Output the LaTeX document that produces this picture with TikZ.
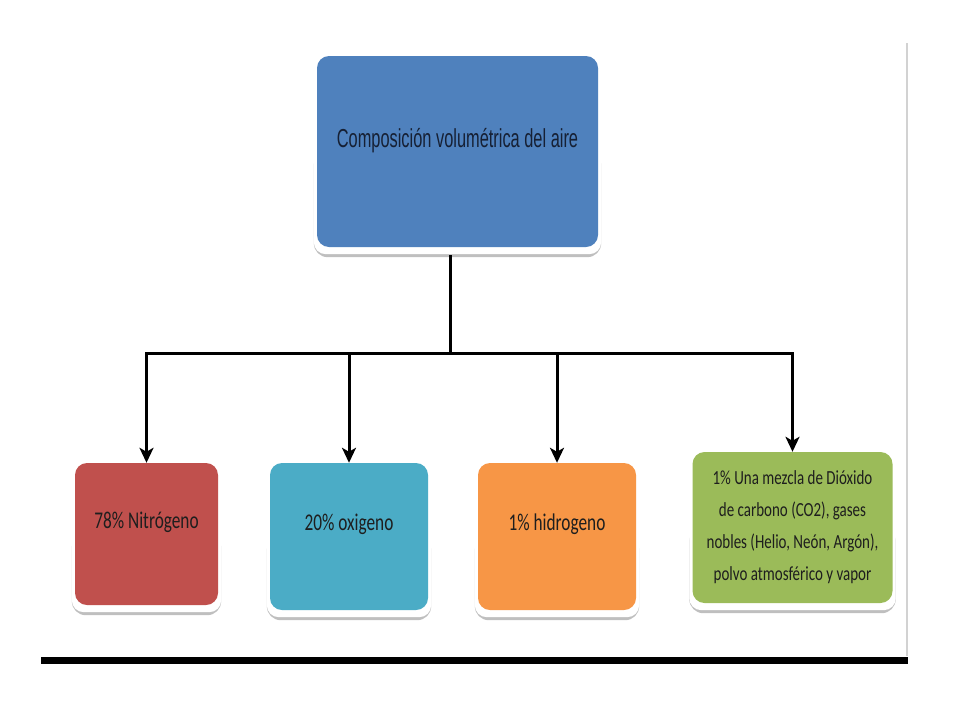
\documentclass[tikz,border=0pt]{standalone}
\usepackage{fontspec}
\setmainfont{Carlito}
\newfontfamily\arialfont{Liberation Sans}
\usetikzlibrary{arrows.meta,backgrounds}
\definecolor{cblue}{RGB}{79,129,189}
\definecolor{cred}{RGB}{192,80,77}
\definecolor{cteal}{RGB}{75,172,198}
\definecolor{corange}{RGB}{247,150,70}
\definecolor{cgreen}{RGB}{155,187,89}
\definecolor{navytext}{RGB}{22,32,52}
\definecolor{darktext}{RGB}{30,30,30}
\newcommand{\sqa}[1]{\scalebox{0.63}[1]{#1}}
\newcommand{\sqb}[1]{\scalebox{0.72}[1]{#1}}
\newcommand{\sqc}[1]{\scalebox{0.75}[1]{#1}}
\tikzset{
  box/.style={rectangle, rounded corners=12pt, inner sep=0pt, draw=none, text=darktext, align=center},
  conn/.style={line width=3pt, black},
  arr/.style={line width=3pt, black, -{Stealth[length=15pt,width=14pt,inset=4pt]}},
  rimshadow/.style={fill=gray!50, rounded corners=14pt},
  rimwhite/.style={fill=white, rounded corners=12pt}
}
\begin{document}
\begin{tikzpicture}[x=1pt,y=-1pt]
\useasboundingbox (0,0) rectangle (960,720);

% top node
\node[box, fill=cblue, text=navytext, minimum width=281pt, minimum height=191pt,
      font=\arialfont\fontsize{26}{30}\selectfont, text depth=28pt] (top) at (457.5,151.5)
      {\sqa{Composición volumétrica del aire}};

% bottom nodes
\node[box, fill=cred, minimum width=143pt, minimum height=142pt,
      font=\fontsize{24}{28}\selectfont, text depth=28pt] (n1) at (146.5,534)
      {\sqb{78\% Nitrógeno}};
\node[box, fill=cteal, minimum width=158pt, minimum height=147pt,
      font=\fontsize{24}{28}\selectfont, text depth=28pt] (n2) at (349,536.5)
      {\sqb{20\% oxigeno}};
\node[box, fill=corange, minimum width=158pt, minimum height=147pt,
      font=\fontsize{24}{28}\selectfont, text depth=28pt] (n3) at (557,536.5)
      {\sqb{1\% hidrogeno}};
\node[box, fill=cgreen, minimum width=200pt, minimum height=151pt,
      font=\fontsize{20}{32}\selectfont] (n4) at (792.5,527.5)
      {\sqc{1\% Una mezcla de Dióxido}\\ \sqc{de carbono (CO2), gases}\\
       \sqc{nobles (Helio, Neón, Argón),}\\ \sqc{polvo atmosférico y vapor}};

% shadows behind boxes
\begin{pgfonlayer}{background}
\foreach \n in {top,n1,n2,n3,n4}{
  \fill[rimshadow] ([xshift=-3pt]\n.west) rectangle ([xshift=3pt,yshift=-10pt]\n.south east);
  \fill[rimwhite] ([xshift=-3pt,yshift=-2pt]\n.north west) rectangle ([xshift=3pt,yshift=-7pt]\n.south east);
}
\end{pgfonlayer}

% connectors
\coordinate (j) at (450,353);
\draw[conn] ([yshift=-8pt]top.south -| j) -- (j);
\draw[conn, line cap=rect] (n1.north |- j) -- (n4.north |- j);
\foreach \n in {n1,n2,n3,n4}{
  \draw[arr] (\n.north |- j) -- (\n.north);
}

% frame lines
\draw[gray!35, line width=1.5pt] (907,43) -- (907,656);
\draw[black, line width=7pt] (41,660) -- (908,660);
\end{tikzpicture}
\end{document}
